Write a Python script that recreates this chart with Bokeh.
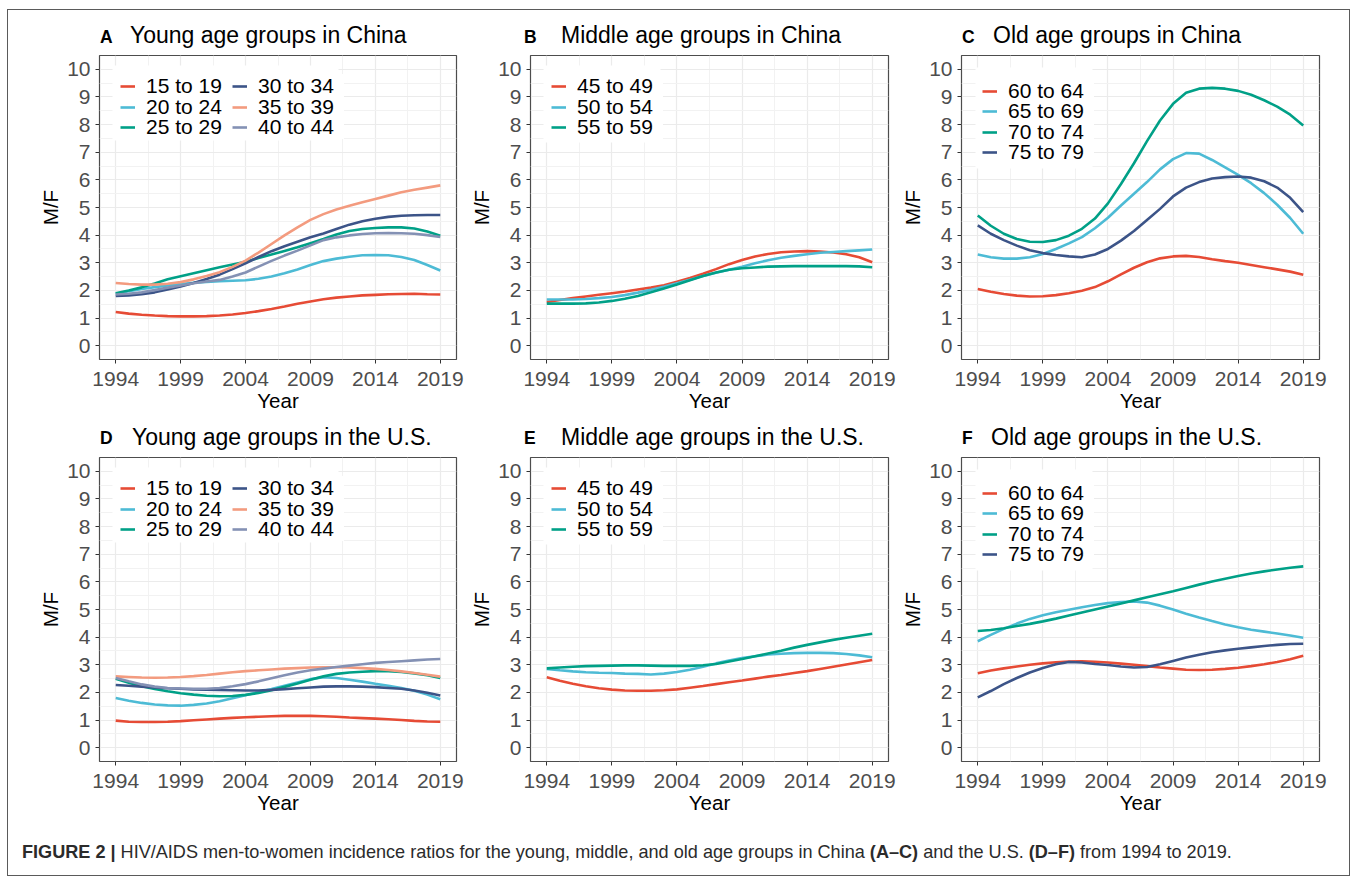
from bokeh.plotting import figure
from bokeh.models import Range1d, FixedTicker, Legend, LegendItem, Div, BoxAnnotation
from bokeh.layouts import row, column
from bokeh.embed import file_html
from bokeh.resources import INLINE

# ---------------- data ----------------
years = list(range(1994, 2020))
x_ticks = [1994, 1999, 2004, 2009, 2014, 2019]
x_minor = [1996.5, 2001.5, 2006.5, 2011.5, 2016.5]
y_ticks = list(range(0, 11))
y_minor = [v + 0.5 for v in range(0, 10)]

young_groups = ["15 to 19", "20 to 24", "25 to 29", "30 to 34", "35 to 39", "40 to 44"]
middle_groups = ["45 to 49", "50 to 54", "55 to 59"]
old_groups = ["60 to 64", "65 to 69", "70 to 74", "75 to 79"]

# China, young
cn_15_19 = [1.22, 1.16, 1.12, 1.09, 1.07, 1.06, 1.06, 1.07, 1.09, 1.13, 1.18, 1.25, 1.33, 1.42, 1.52, 1.60, 1.68, 1.74, 1.78, 1.82, 1.84, 1.86, 1.87, 1.88, 1.86, 1.85]
cn_20_24 = [1.88, 1.97, 2.05, 2.12, 2.18, 2.23, 2.28, 2.31, 2.33, 2.35, 2.37, 2.42, 2.50, 2.62, 2.76, 2.92, 3.06, 3.15, 3.22, 3.27, 3.28, 3.27, 3.21, 3.10, 2.92, 2.72]
cn_25_29 = [1.90, 2.00, 2.11, 2.25, 2.40, 2.51, 2.62, 2.73, 2.84, 2.94, 3.04, 3.17, 3.30, 3.43, 3.56, 3.71, 3.86, 4.02, 4.15, 4.22, 4.26, 4.28, 4.28, 4.24, 4.13, 3.98]
cn_30_34 = [1.80, 1.82, 1.86, 1.93, 2.03, 2.14, 2.27, 2.41, 2.57, 2.77, 2.98, 3.21, 3.42, 3.60, 3.76, 3.92, 4.06, 4.22, 4.38, 4.50, 4.59, 4.66, 4.70, 4.72, 4.73, 4.73]
cn_35_39 = [2.27, 2.23, 2.21, 2.21, 2.24, 2.30, 2.40, 2.52, 2.66, 2.85, 3.08, 3.37, 3.68, 3.99, 4.28, 4.55, 4.76, 4.93, 5.06, 5.19, 5.31, 5.43, 5.55, 5.64, 5.72, 5.80]
cn_40_44 = [1.85, 1.88, 1.93, 2.01, 2.10, 2.18, 2.26, 2.32, 2.38, 2.50, 2.65, 2.86, 3.07, 3.26, 3.44, 3.63, 3.82, 3.92, 3.99, 4.04, 4.07, 4.08, 4.07, 4.05, 4.00, 3.93]
# China, middle
cn_45_49 = [1.58, 1.65, 1.72, 1.78, 1.84, 1.90, 1.96, 2.03, 2.10, 2.19, 2.31, 2.45, 2.60, 2.77, 2.95, 3.10, 3.23, 3.32, 3.38, 3.41, 3.42, 3.41, 3.37, 3.31, 3.20, 3.02]
cn_50_54 = [1.67, 1.67, 1.67, 1.69, 1.72, 1.76, 1.83, 1.92, 2.02, 2.13, 2.26, 2.39, 2.52, 2.64, 2.75, 2.86, 2.98, 3.09, 3.18, 3.25, 3.31, 3.36, 3.39, 3.42, 3.45, 3.48]
cn_55_59 = [1.52, 1.52, 1.52, 1.53, 1.56, 1.62, 1.70, 1.80, 1.93, 2.07, 2.21, 2.37, 2.52, 2.65, 2.75, 2.80, 2.83, 2.86, 2.87, 2.88, 2.88, 2.88, 2.88, 2.88, 2.87, 2.84]
# China, old
cn_60_64 = [2.05, 1.95, 1.87, 1.81, 1.78, 1.79, 1.83, 1.90, 1.99, 2.12, 2.33, 2.58, 2.82, 3.02, 3.16, 3.23, 3.25, 3.21, 3.13, 3.06, 3.00, 2.92, 2.84, 2.76, 2.68, 2.57]
cn_65_69 = [3.30, 3.20, 3.15, 3.15, 3.20, 3.32, 3.50, 3.70, 3.93, 4.25, 4.63, 5.07, 5.50, 5.92, 6.38, 6.75, 6.97, 6.95, 6.72, 6.45, 6.18, 5.88, 5.52, 5.10, 4.62, 4.05]
cn_70_74 = [4.71, 4.34, 4.05, 3.86, 3.76, 3.75, 3.82, 3.98, 4.23, 4.60, 5.15, 5.85, 6.60, 7.40, 8.15, 8.75, 9.15, 9.30, 9.33, 9.30, 9.22, 9.08, 8.88, 8.65, 8.36, 7.97]
cn_75_79 = [4.35, 4.05, 3.82, 3.62, 3.45, 3.35, 3.28, 3.23, 3.20, 3.30, 3.50, 3.80, 4.15, 4.55, 4.95, 5.40, 5.72, 5.92, 6.05, 6.10, 6.12, 6.08, 5.95, 5.72, 5.35, 4.83]
# U.S., young
us_15_19 = [0.98, 0.94, 0.93, 0.93, 0.94, 0.96, 0.99, 1.02, 1.05, 1.08, 1.10, 1.12, 1.14, 1.15, 1.15, 1.15, 1.14, 1.12, 1.09, 1.07, 1.05, 1.03, 1.00, 0.97, 0.95, 0.94]
us_20_24 = [1.80, 1.70, 1.62, 1.56, 1.53, 1.52, 1.55, 1.60, 1.68, 1.79, 1.90, 2.01, 2.12, 2.24, 2.36, 2.48, 2.55, 2.52, 2.46, 2.39, 2.31, 2.24, 2.16, 2.06, 1.92, 1.75]
us_25_29 = [2.49, 2.35, 2.22, 2.12, 2.04, 1.97, 1.92, 1.88, 1.86, 1.87, 1.91, 1.98, 2.08, 2.20, 2.32, 2.46, 2.58, 2.67, 2.72, 2.75, 2.77, 2.77, 2.74, 2.69, 2.62, 2.52]
us_30_34 = [2.27, 2.24, 2.21, 2.18, 2.15, 2.13, 2.11, 2.10, 2.09, 2.08, 2.07, 2.07, 2.09, 2.12, 2.15, 2.18, 2.21, 2.22, 2.22, 2.21, 2.19, 2.16, 2.13, 2.07, 1.99, 1.89]
us_35_39 = [2.58, 2.56, 2.54, 2.53, 2.54, 2.56, 2.59, 2.63, 2.68, 2.73, 2.77, 2.80, 2.83, 2.86, 2.88, 2.90, 2.91, 2.91, 2.90, 2.88, 2.85, 2.81, 2.76, 2.70, 2.64, 2.57]
us_40_44 = [2.52, 2.40, 2.29, 2.21, 2.16, 2.14, 2.13, 2.13, 2.16, 2.22, 2.30, 2.40, 2.51, 2.62, 2.72, 2.80, 2.86, 2.92, 2.97, 3.02, 3.07, 3.10, 3.13, 3.16, 3.19, 3.21]
# U.S., middle
us_45_49 = [2.55, 2.42, 2.31, 2.22, 2.15, 2.10, 2.07, 2.06, 2.06, 2.08, 2.11, 2.17, 2.23, 2.30, 2.37, 2.43, 2.50, 2.57, 2.63, 2.70, 2.77, 2.85, 2.93, 3.01, 3.09, 3.17]
us_50_54 = [2.85, 2.80, 2.76, 2.73, 2.71, 2.70, 2.68, 2.67, 2.65, 2.68, 2.74, 2.82, 2.93, 3.05, 3.15, 3.24, 3.31, 3.37, 3.40, 3.42, 3.43, 3.43, 3.42, 3.39, 3.34, 3.27]
us_55_59 = [2.87, 2.90, 2.93, 2.95, 2.96, 2.97, 2.98, 2.98, 2.97, 2.96, 2.96, 2.96, 2.98, 3.03, 3.12, 3.21, 3.31, 3.41, 3.51, 3.62, 3.72, 3.81, 3.90, 3.98, 4.05, 4.12]
# U.S., old
us_60_64 = [2.69, 2.79, 2.87, 2.94, 3.00, 3.05, 3.09, 3.12, 3.13, 3.11, 3.08, 3.04, 3.00, 2.95, 2.90, 2.86, 2.82, 2.81, 2.82, 2.85, 2.89, 2.95, 3.02, 3.10, 3.20, 3.33]
us_65_69 = [3.85, 4.08, 4.30, 4.49, 4.66, 4.79, 4.90, 4.99, 5.08, 5.16, 5.23, 5.27, 5.29, 5.25, 5.14, 5.00, 4.85, 4.71, 4.58, 4.46, 4.36, 4.27, 4.20, 4.13, 4.06, 3.98]
us_70_74 = [4.22, 4.26, 4.32, 4.40, 4.48, 4.57, 4.67, 4.78, 4.89, 5.00, 5.11, 5.22, 5.33, 5.44, 5.55, 5.66, 5.78, 5.90, 6.01, 6.11, 6.21, 6.30, 6.38, 6.45, 6.51, 6.56]
us_75_79 = [1.82, 2.05, 2.30, 2.52, 2.72, 2.88, 3.02, 3.10, 3.08, 3.03, 2.99, 2.94, 2.90, 2.92, 3.02, 3.14, 3.26, 3.36, 3.45, 3.52, 3.58, 3.63, 3.68, 3.72, 3.75, 3.76]

# ---------------- style ----------------
PALETTE = ["#E64B35", "#4DBBD5", "#00A087", "#3C5488", "#F39B7F", "#8491B4"]
FONT = "Liberation Sans"

panels = [
    ("A", "Young age groups in China", young_groups, [cn_15_19, cn_20_24, cn_25_29, cn_30_34, cn_35_39, cn_40_44]),
    ("B", "Middle age groups in China", middle_groups, [cn_45_49, cn_50_54, cn_55_59]),
    ("C", "Old age groups in China", old_groups, [cn_60_64, cn_65_69, cn_70_74, cn_75_79]),
    ("D", "Young age groups in the U.S.", young_groups, [us_15_19, us_20_24, us_25_29, us_30_34, us_35_39, us_40_44]),
    ("E", "Middle age groups in the U.S.", middle_groups, [us_45_49, us_50_54, us_55_59]),
    ("F", "Old age groups in the U.S.", old_groups, [us_60_64, us_65_69, us_70_74, us_75_79]),
]

X0, X1 = 1992.75, 2020.25
Y0, Y1 = -0.5, 10.5
# per column: (min_border_left, frame_width, min_border_right)
col_geom = [(91, 357, 10), (64, 358, 9), (64, 358, 30)]
FRAME_H = 304
BORDER_TOP = 5
BORDER_BOTTOM = 56
# title strip per row: (height, tag_top, title_top); per panel: (tag_left, title_left)
title_rows = [(40, 18.7, 14.0), (37, 15.2, 10.5)]
title_x = [(92, 122), (58, 95), (65, 96), (92, 124), (58, 95), (65, 94)]

ROW_PITCH = 20.5
ITEM_H = 24


def make_panel(i, groups, series):
    cl, fw, cr = col_geom[i % 3]
    p = figure(frame_width=fw, frame_height=FRAME_H,
               min_border_left=cl, min_border_right=cr,
               min_border_top=BORDER_TOP, min_border_bottom=BORDER_BOTTOM,
               x_range=Range1d(X0, X1), y_range=Range1d(Y0, Y1),
               output_backend="svg", toolbar_location=None,
               background_fill_color="white", border_fill_color="white")
    p.outline_line_color = "#4D4D4D"
    p.outline_line_width = 1.2

    p.xaxis.ticker = FixedTicker(ticks=x_ticks, minor_ticks=x_minor)
    p.yaxis.ticker = FixedTicker(ticks=y_ticks, minor_ticks=y_minor)
    p.xaxis.axis_label = "Year"
    p.yaxis.axis_label = "M/F"
    for ax in (p.xaxis, p.yaxis):
        ax.axis_line_color = None
        ax.major_tick_line_color = "#333333"
        ax.major_tick_out = 4
        ax.major_tick_in = 0
        ax.minor_tick_line_color = None
        ax.major_label_text_font = FONT
        ax.major_label_text_font_size = "21px"
        ax.major_label_text_color = "#4D4D4D"
        ax.axis_label_text_font = FONT
        ax.axis_label_text_font_size = "20.5px"
        ax.axis_label_text_font_style = "normal"
        ax.axis_label_text_color = "black"
    p.xaxis.major_label_standoff = 8
    p.xaxis.axis_label_standoff = 0
    p.yaxis.major_label_standoff = 5
    p.yaxis.axis_label_standoff = 2

    for g in (p.xgrid, p.ygrid):
        g.grid_line_color = "#EBEBEB"
        g.grid_line_width = 1.2
        g.minor_grid_line_color = "#F2F2F2"
        g.minor_grid_line_width = 1

    items = []
    for k, (name, vals) in enumerate(zip(groups, series)):
        r = p.line(years, vals, line_color=PALETTE[k], line_width=2.6)
        items.append(LegendItem(label=name, renderers=[r]))

    n = len(groups)
    if n == 6:
        rows = [[0, 3], [1, 4], [2, 5]]
        first, box = 31, (13, 239, 10, 85)
    elif n == 3:
        rows = [[0], [1], [2]]
        first, box = 31, (13, 130, 10, 87)
    else:
        rows = [[0], [1], [2], [3]]
        first, box = 35.5, (14, 131, 12, 113)

    # white legend background box (pixel offsets from the frame's top-left)
    sx = (X1 - X0) / fw
    sy = (Y1 - Y0) / FRAME_H
    bl, br, bt, bb = box
    p.add_layout(BoxAnnotation(left=X0 + bl * sx, right=X0 + br * sx,
                               top=Y1 - bt * sy, bottom=Y1 - bb * sy,
                               fill_color="white", fill_alpha=1.0, line_color=None))

    for r_i, idx in enumerate(rows):
        center = first + ROW_PITCH * r_i
        leg = Legend(items=[items[k] for k in idx],
                     location=(21, FRAME_H - center - ITEM_H / 2),
                     orientation="horizontal", margin=0, padding=0, spacing=0,
                     glyph_width=15, glyph_height=20, label_standoff=11,
                     label_width=86, label_height=20,
                     label_text_font=FONT, label_text_font_size="21px",
                     label_text_color="black",
                     background_fill_color="white", background_fill_alpha=1.0,
                     border_line_color=None)
        p.add_layout(leg)
    return p


def make_title(i, tag, title):
    h, tag_top, title_top = title_rows[i // 3]
    cl, fw, cr = col_geom[i % 3]
    w = cl + fw + cr
    tx, ttx = title_x[i]
    html = (f'<div style="position:relative; width:{w}px; height:{h}px; font-family:\'{FONT}\', Arial, sans-serif; color:black;">'
            f'<span style="position:absolute; left:{tx}px; top:{tag_top}px; font-size:17.5px; line-height:17.5px; font-weight:bold; white-space:nowrap;">{tag}</span>'
            f'<span style="position:absolute; left:{ttx}px; top:{title_top}px; font-size:23px; line-height:23px; white-space:nowrap;">{title}</span>'
            '</div>')
    return Div(text=html, width=w, height=h, margin=0)


figs = [make_panel(i, g, s) for i, (_, _, g, s) in enumerate(panels)]
titles = [make_title(i, t, tt) for i, (t, tt, _, _) in enumerate(panels)]

caption = Div(
    text=('<div style="padding: 25px 0 0 14px; font-family: \'Liberation Sans\', Arial, sans-serif; '
          'font-size: 18.1px; line-height: 20px; color: #2b2b2b; white-space: nowrap;">'
          '<b>FIGURE 2 |</b> HIV/AIDS men-to-women incidence ratios for the young, middle, and old age '
          'groups in China <b>(A–C)</b> and the U.S. <b>(D–F)</b> from 1994 to 2019.</div>'),
    width=1340, height=58, margin=0)

layout = column(row(*titles[:3]), row(*figs[:3]), row(*titles[3:]), row(*figs[3:]), caption,
                margin=(9, 0, 0, 7),
                styles={"border": "1px solid #5a5a5a", "background-color": "white"})

open("out.html", "w").write(file_html(layout, INLINE))
